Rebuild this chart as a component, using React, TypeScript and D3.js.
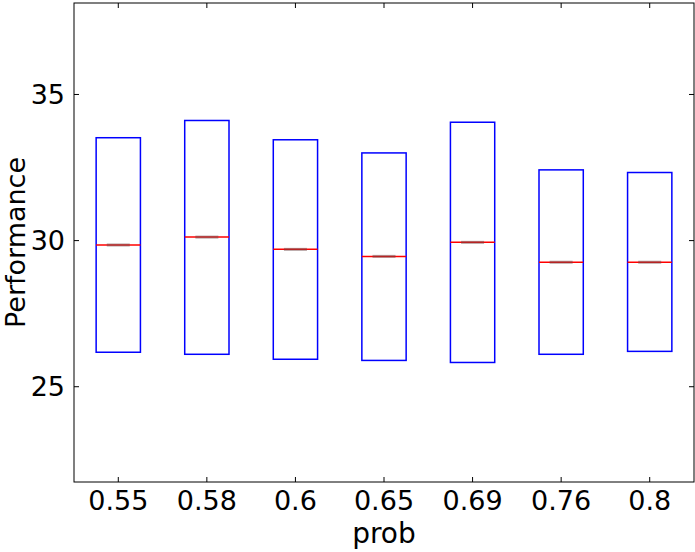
import React, { useEffect, useRef } from 'react';
import * as d3 from 'd3';

const categories = ['0.55', '0.58', '0.6', '0.65', '0.69', '0.76', '0.8'];
const q1 = [26.18, 26.11, 25.94, 25.90, 25.83, 26.11, 26.21];
const q3 = [33.52, 34.11, 33.45, 33.00, 34.05, 32.42, 32.33];
const medians = [29.85, 30.12, 29.70, 29.46, 29.94, 29.26, 29.26];
const yTicks = [25, 30, 35];

const width = 695;
const height = 552;
const margin = { top: 3, right: 1, bottom: 70, left: 74 };
const font = 'DejaVu Sans, sans-serif';

export default function App() {
  const svgRef = useRef<SVGSVGElement>(null);

  useEffect(() => {
    if (!svgRef.current) return;
    const svg = d3.select(svgRef.current);
    svg.selectAll('*').remove();

    const x0 = margin.left;
    const x1 = width - margin.right;
    const y0 = height - margin.bottom;
    const y1 = margin.top;

    // boxplot positions 1..n with 0.5 padding each side
    const x = d3.scaleLinear().domain([0.5, categories.length + 0.5]).range([x0, x1]);
    const y = d3.scaleLinear().domain([21.74, 38.13]).range([y0, y1]);
    const boxW = x(1.25) - x(0.75);

    const g = svg.append('g');

    categories.forEach((c, i) => {
      const cx = x(i + 1);
      g.append('rect')
        .attr('x', cx - boxW / 2)
        .attr('y', y(q3[i]))
        .attr('width', boxW)
        .attr('height', y(q1[i]) - y(q3[i]))
        .attr('fill', 'none')
        .attr('stroke', '#0000ff')
        .attr('stroke-width', 1.5);
      g.append('line')
        .attr('x1', cx - boxW / 2)
        .attr('x2', cx + boxW / 2)
        .attr('y1', y(medians[i]))
        .attr('y2', y(medians[i]))
        .attr('stroke', '#ff0000')
        .attr('stroke-width', 1.5);
      // darker centre segment on the median
      g.append('line')
        .attr('x1', cx - 11.5)
        .attr('x2', cx + 11.5)
        .attr('y1', y(medians[i]))
        .attr('y2', y(medians[i]))
        .attr('stroke', 'rgba(110,70,70,0.5)')
        .attr('stroke-width', 3);
    });

    // frame
    svg.append('rect')
      .attr('x', x0).attr('y', y1)
      .attr('width', x1 - x0).attr('height', y0 - y1)
      .attr('fill', 'none').attr('stroke', '#000').attr('stroke-width', 1);

    const tickLen = 5;
    categories.forEach((c, i) => {
      const tx = x(i + 1);
      svg.append('line').attr('x1', tx).attr('x2', tx).attr('y1', y0).attr('y2', y0 - tickLen).attr('stroke', '#000');
      svg.append('line').attr('x1', tx).attr('x2', tx).attr('y1', y1).attr('y2', y1 + tickLen).attr('stroke', '#000');
      svg.append('text')
        .attr('x', tx).attr('y', y0 + 28)
        .attr('text-anchor', 'middle')
        .attr('font-family', font).attr('font-size', 27)
        .text(c);
    });

    yTicks.forEach(t => {
      const ty = y(t);
      svg.append('line').attr('x1', x0).attr('x2', x0 + tickLen).attr('y1', ty).attr('y2', ty).attr('stroke', '#000');
      svg.append('line').attr('x1', x1).attr('x2', x1 - tickLen).attr('y1', ty).attr('y2', ty).attr('stroke', '#000');
      svg.append('text')
        .attr('x', x0 - 9).attr('y', ty)
        .attr('dy', '0.36em')
        .attr('text-anchor', 'end')
        .attr('font-family', font).attr('font-size', 27)
        .text(t);
    });

    svg.append('text')
      .attr('x', (x0 + x1) / 2).attr('y', height - 9)
      .attr('text-anchor', 'middle')
      .attr('font-family', font).attr('font-size', 28)
      .text('prob');

    svg.append('text')
      .attr('transform', `translate(25,${(y0 + y1) / 2}) rotate(-90)`)
      .attr('text-anchor', 'middle')
      .attr('font-family', font).attr('font-size', 27)
      .text('Performance');
  }, []);

  return (
    <div style={{ position: 'absolute', left: 0, top: 0 }}>
      <svg ref={svgRef} width={width} height={height} style={{ display: 'block', background: '#fff' }} />
    </div>
  );
}
